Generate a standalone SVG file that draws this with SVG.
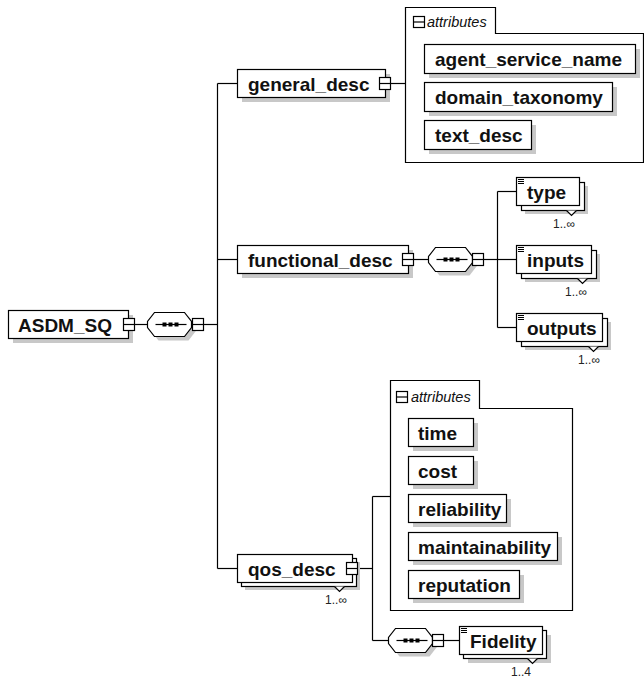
<svg xmlns="http://www.w3.org/2000/svg" xmlns:xlink="http://www.w3.org/1999/xlink" width="644" height="678" viewBox="0 0 644 678">
<style>
.bx{fill:#fff;stroke:#000;stroke-width:1.2}
.sh{fill:#c8c8c8;stroke:none}
.ln{fill:none;stroke:#000;stroke-width:1.2}
.lbl{font-family:"Liberation Sans",Arial,sans-serif;font-weight:bold;font-size:19px;fill:#111}
.occ{font-family:"Liberation Sans",Arial,sans-serif;font-size:12px;fill:#222;text-anchor:end}
.att{font-family:"Liberation Sans",Arial,sans-serif;font-style:italic;font-size:14.5px;fill:#111}
</style>
<defs>
<g id="seq">
<polygon class="sh" points="11,4 41,4 48,13 48,19 41,28 11,28 4,19 4,13"/>
<polygon class="bx" points="7,0 37,0 44,9 44,15 37,24 7,24 0,15 0,9"/>
<line class="ln" x1="8" y1="12" x2="39" y2="12"/>
<rect x="15" y="10" width="4" height="4" fill="#000"/>
<rect x="21" y="10" width="4" height="4" fill="#000"/>
<rect x="27" y="10" width="4" height="4" fill="#000"/>
</g>
<g id="exp">
<rect class="bx" x="0" y="0" width="11" height="12"/>
<line class="ln" x1="0" y1="6" x2="11" y2="6"/>
</g>
<g id="coll">
<rect class="bx" x="0" y="0" width="11" height="11"/>
<line class="ln" x1="0" y1="5.5" x2="11" y2="5.5"/>
</g>
<g id="doc">
<line x1="1" y1="1.5" x2="7" y2="1.5" stroke="#000" stroke-width="1"/>
<line x1="1" y1="3.5" x2="7" y2="3.5" stroke="#000" stroke-width="1"/>
<line x1="1" y1="5.5" x2="7" y2="5.5" stroke="#000" stroke-width="1"/>
</g>
</defs>

<g id="connectors">
<line class="ln" x1="134.5" y1="324.5" x2="147.5" y2="324.5"/>
<line class="ln" x1="203.5" y1="324.5" x2="217.5" y2="324.5"/>
<line class="ln" x1="217.5" y1="83.5" x2="217.5" y2="568.5"/>
<line class="ln" x1="217.5" y1="83.5" x2="237.5" y2="83.5"/>
<line class="ln" x1="217.5" y1="259.5" x2="237.5" y2="259.5"/>
<line class="ln" x1="217.5" y1="568.5" x2="237.5" y2="568.5"/>
<line class="ln" x1="390.5" y1="83.5" x2="405.5" y2="83.5"/>
<line class="ln" x1="413.5" y1="259.5" x2="428.5" y2="259.5"/>
<line class="ln" x1="483.5" y1="259.5" x2="497.5" y2="259.5"/>
<line class="ln" x1="497.5" y1="191.5" x2="497.5" y2="327.5"/>
<line class="ln" x1="497.5" y1="191.5" x2="516.5" y2="191.5"/>
<line class="ln" x1="497.5" y1="259.5" x2="516.5" y2="259.5"/>
<line class="ln" x1="497.5" y1="327.5" x2="516.5" y2="327.5"/>
<line class="ln" x1="357.5" y1="568.5" x2="372.5" y2="568.5"/>
<line class="ln" x1="372.5" y1="496.5" x2="372.5" y2="640.5"/>
<line class="ln" x1="372.5" y1="496.5" x2="390.5" y2="496.5"/>
<line class="ln" x1="372.5" y1="640.5" x2="388.5" y2="640.5"/>
<line class="ln" x1="443.5" y1="640.5" x2="459.5" y2="640.5"/>
</g>

<g id="ASDM_SQ">
<rect class="sh" x="13" y="315" width="120" height="28"/>
<rect class="bx" x="8.5" y="310.5" width="120" height="28"/>
<text class="lbl" x="18" y="331.5">ASDM_SQ</text>
<use xlink:href="#exp" x="123.5" y="318.5"/>
</g>
<g id="seq_root">
<use xlink:href="#seq" x="147.5" y="312.5"/>
<use xlink:href="#exp" x="192.5" y="318.5"/>
</g>

<g id="general_desc">
<rect class="sh" x="242" y="74" width="148" height="28"/>
<rect class="bx" x="237.5" y="69.5" width="148" height="28"/>
<text class="lbl" x="248" y="90.5">general_desc</text>
<use xlink:href="#exp" x="379.5" y="77.5"/>
</g>

<g id="general_attributes">
<path class="bx" d="M405.5,7.5 H495.5 V33.5 H643.5 V162.5 H405.5 Z"/>
<use xlink:href="#coll" x="413.5" y="16.5"/>
<text class="att" x="427" y="27">attributes</text>
<g id="agent_service_name">
<rect class="sh" x="429" y="49" width="211" height="29"/>
<rect class="bx" x="424.5" y="44.5" width="211" height="29"/>
<text class="lbl" x="435" y="66">agent_service_name</text>
</g>
<g id="domain_taxonomy">
<rect class="sh" x="429" y="87" width="188" height="29"/>
<rect class="bx" x="424.5" y="82.5" width="188" height="29"/>
<text class="lbl" x="435" y="104">domain_taxonomy</text>
</g>
<g id="text_desc">
<rect class="sh" x="429" y="125" width="107" height="29"/>
<rect class="bx" x="424.5" y="120.5" width="107" height="29"/>
<text class="lbl" x="435" y="142">text_desc</text>
</g>
</g>

<g id="functional_desc">
<rect class="sh" x="242" y="250" width="171" height="28"/>
<rect class="bx" x="237.5" y="245.5" width="171" height="28"/>
<text class="lbl" x="248" y="266.5">functional_desc</text>
<use xlink:href="#exp" x="402.5" y="253.5"/>
</g>
<g id="seq_functional">
<use xlink:href="#seq" x="428.5" y="247.5"/>
<use xlink:href="#exp" x="472.5" y="253.5"/>
</g>

<g id="type">
<rect class="sh" x="525" y="186" width="63" height="28"/>
<rect class="bx" x="521.5" y="182.5" width="63" height="28"/>
<rect class="bx" x="516.5" y="177.5" width="63" height="28"/>
<use xlink:href="#doc" x="517" y="178"/>
<text class="lbl" x="527" y="198.5">type</text>
<polyline class="bx" points="566.5,210.5 571.5,215.5 576.5,210.5"/>
<text class="occ" x="575" y="228">1..∞</text>
</g>

<g id="inputs">
<rect class="sh" x="525" y="254" width="75" height="28"/>
<rect class="bx" x="521.5" y="250.5" width="75" height="28"/>
<rect class="bx" x="516.5" y="245.5" width="75" height="28"/>
<use xlink:href="#doc" x="517" y="246"/>
<text class="lbl" x="527" y="266.5">inputs</text>
<polyline class="bx" points="577.5,278.5 582.5,283.5 587.5,278.5"/>
<text class="occ" x="587" y="296">1..∞</text>
</g>

<g id="outputs">
<rect class="sh" x="525" y="322" width="86" height="28"/>
<rect class="bx" x="521.5" y="318.5" width="86" height="28"/>
<rect class="bx" x="516.5" y="313.5" width="86" height="28"/>
<use xlink:href="#doc" x="517" y="314"/>
<text class="lbl" x="527" y="334.5">outputs</text>
<polyline class="bx" points="588.5,346.5 593.5,351.5 598.5,346.5"/>
<text class="occ" x="600" y="364">1..∞</text>
</g>

<g id="qos_desc">
<rect class="sh" x="245" y="562" width="115" height="28"/>
<rect class="bx" x="241.5" y="558.5" width="115" height="28"/>
<rect class="bx" x="237.5" y="554.5" width="115" height="28"/>
<text class="lbl" x="248" y="575.5">qos_desc</text>
<use xlink:href="#exp" x="346.5" y="562.5"/>
<polyline class="bx" points="334.5,586.5 339.5,591.5 344.5,586.5"/>
<text class="occ" x="347" y="604">1..∞</text>
</g>

<g id="qos_attributes">
<path class="bx" d="M390.5,380.5 H479.5 V408.5 H572.5 V610.5 H390.5 Z"/>
<use xlink:href="#coll" x="396.5" y="391.5"/>
<text class="att" x="411" y="402">attributes</text>
<g id="time">
<rect class="sh" x="413" y="423" width="65" height="28"/>
<rect class="bx" x="408.5" y="418.5" width="65" height="28"/>
<text class="lbl" x="418" y="439.5">time</text>
</g>
<g id="cost">
<rect class="sh" x="413" y="461" width="65" height="28"/>
<rect class="bx" x="408.5" y="456.5" width="65" height="28"/>
<text class="lbl" x="418" y="477.5">cost</text>
</g>
<g id="reliability">
<rect class="sh" x="413" y="499" width="98" height="28"/>
<rect class="bx" x="408.5" y="494.5" width="98" height="28"/>
<text class="lbl" x="418" y="515.5">reliability</text>
</g>
<g id="maintainability">
<rect class="sh" x="413" y="537" width="149" height="28"/>
<rect class="bx" x="408.5" y="532.5" width="149" height="28"/>
<text class="lbl" x="418" y="553.5">maintainability</text>
</g>
<g id="reputation">
<rect class="sh" x="413" y="575" width="111" height="28"/>
<rect class="bx" x="408.5" y="570.5" width="111" height="28"/>
<text class="lbl" x="418" y="591.5">reputation</text>
</g>
</g>

<g id="seq_qos">
<use xlink:href="#seq" x="388.5" y="628.5"/>
<use xlink:href="#exp" x="432.5" y="634.5"/>
</g>

<g id="Fidelity">
<rect class="sh" x="468" y="635" width="83" height="28"/>
<rect class="bx" x="463.5" y="630.5" width="83" height="28"/>
<rect class="bx" x="459.5" y="626.5" width="83" height="28"/>
<use xlink:href="#doc" x="460" y="627"/>
<text class="lbl" x="470" y="647.5">Fidelity</text>
<polyline class="bx" points="527.5,658.5 532.5,663.5 537.5,658.5"/>
<text class="occ" x="531" y="676">1..4</text>
</g>
</svg>
